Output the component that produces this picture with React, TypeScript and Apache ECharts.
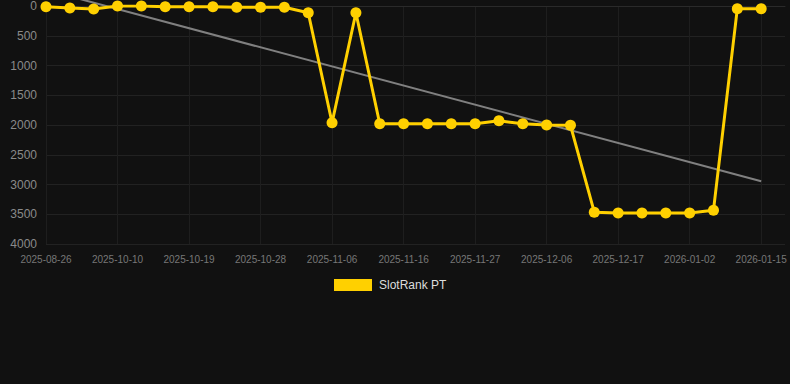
import React, { useEffect, useRef } from "react";
import * as echarts from "echarts";

const dates = [
  "2025-08-26", "2025-09-12", "2025-09-28", "2025-10-10", "2025-10-13", "2025-10-16",
  "2025-10-19", "2025-10-22", "2025-10-25", "2025-10-28", "2025-10-31", "2025-11-03",
  "2025-11-06", "2025-11-09", "2025-11-13", "2025-11-16", "2025-11-20", "2025-11-23",
  "2025-11-27", "2025-11-30", "2025-12-03", "2025-12-06", "2025-12-10", "2025-12-13",
  "2025-12-17", "2025-12-22", "2025-12-28", "2026-01-02", "2026-01-06", "2026-01-10",
  "2026-01-15", ""
];

const rankValues = [
  12, 34, 50, 1, 1, 12, 12, 12, 22, 22, 22, 113, 1963, 113, 1979, 1980,
  1980, 1980, 1980, 1928, 1980, 2000, 2005, 3465, 3480, 3480, 3480, 3480,
  3431, 45, 45
];

const trendStart = -270;
const trendEnd = 2945;

const yTicks = { min: 0, max: 4000, interval: 500 };

export default function App() {
  const ref = useRef<HTMLDivElement>(null);
  useEffect(() => {
    if (!ref.current) return;
    const chart = echarts.init(ref.current, null, { renderer: "svg" });
    const trend = dates.map((_, i) =>
      i === 0 ? trendStart : i === rankValues.length - 1 ? trendEnd : null
    );
    chart.setOption({
      animation: false,
      backgroundColor: "#111111",
      grid: { left: 46, right: 5, top: 6, bottom: 140, containLabel: false },
      legend: {
        data: ["SlotRank PT"],
        top: 274,
        left: 329,
        itemWidth: 38,
        itemHeight: 12,
        itemGap: 10,
        icon: "rect",
        textStyle: { color: "#dddddd", fontSize: 12, padding: [0, 0, 0, 2], fontFamily: "Liberation Sans, Arial, sans-serif" },
      },
      xAxis: {
        type: "category",
        data: dates,
        boundaryGap: false,
        axisLine: { show: true, lineStyle: { color: "#2a2a2a" } },
        axisTick: { show: false },
        axisLabel: {
          interval: 2,
          color: "#777777",
          fontSize: 10,
          margin: 10,
          fontFamily: "Liberation Sans, Arial, sans-serif",
        },
        splitLine: { show: true, interval: 2, lineStyle: { color: "#1e1e1e" } },
      },
      yAxis: {
        type: "value",
        inverse: true,
        min: yTicks.min,
        max: yTicks.max,
        interval: yTicks.interval,
        axisLine: { show: false },
        axisTick: { show: false },
        axisLabel: {
          color: "#8a8a8a",
          fontSize: 12,
          margin: 9,
          formatter: (v: number) => String(v),
          fontFamily: "Liberation Sans, Arial, sans-serif",
        },
        splitLine: { show: true, lineStyle: { color: "#222222" } },
      },
      series: [
        {
          name: "Trend",
          type: "line",
          data: trend,
          connectNulls: true,
          clip: false,
          showSymbol: false,
          symbol: "none",
          lineStyle: { color: "#808080", width: 2 },
          z: 1,
          silent: true,
        },
        {
          name: "SlotRank PT",
          type: "line",
          data: rankValues,
          symbol: "circle",
          symbolSize: 11,
          itemStyle: { color: "#FFD000" },
          lineStyle: { color: "#FFD000", width: 3 },
          z: 2,
        },
      ],
    });
    return () => chart.dispose();
  }, []);
  return (
    <div
      ref={ref}
      style={{ position: "fixed", left: 0, top: 0, width: 790, height: 384 }}
    />
  );
}
